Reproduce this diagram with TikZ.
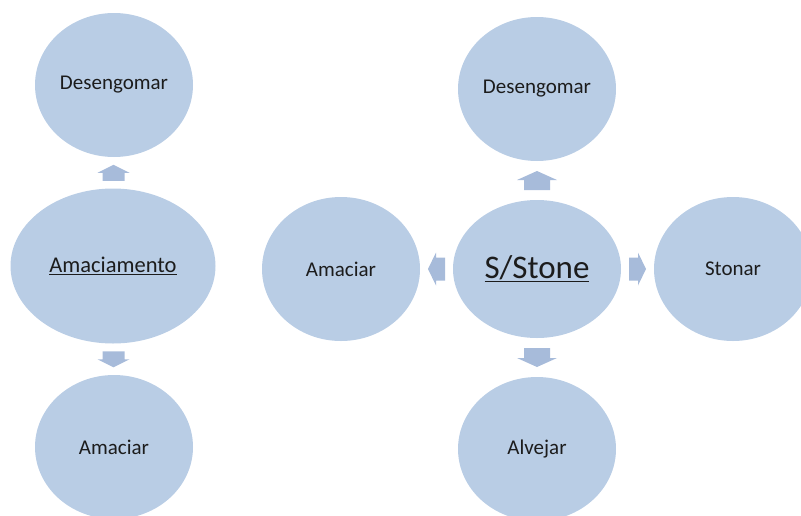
\documentclass[tikz,border=0pt]{standalone}
\usepackage{fontspec}
\setmainfont{Carlito}
\usetikzlibrary{shapes.geometric,calc}
\definecolor{bubble}{HTML}{B9CDE5}
\definecolor{arrowfill}{HTML}{A7BBDA}
\definecolor{ink}{HTML}{1C1C1C}
\tikzset{
  bubble/.style={ellipse, fill=bubble, draw=none, inner sep=0pt,
    text=ink, font=\fontsize{21}{24}\selectfont},
  small/.style={bubble, minimum width=158pt, minimum height=144pt},
}
% block arrow centred on a coordinate:
% #1 centre, #2 direction angle, #3 total length, #4 head width, #5 shaft width, #6 head length
\newcommand\BlockArrow[6]{%
  \fill[arrowfill, shift={(#1)}, rotate=#2]
    ({-#3/2},{-#5/2}) -- ({#3/2-#6},{-#5/2}) -- ({#3/2-#6},{-#4/2})
    -- ({#3/2},0) -- ({#3/2-#6},{#4/2}) -- ({#3/2-#6},{#5/2})
    -- ({-#3/2},{#5/2}) -- cycle;}
\begin{document}
\begin{tikzpicture}[x=1pt,y=-1pt]
\useasboundingbox (0,0) rectangle (801,515);

% left group
\node[small] (ldes) at (114,85) {Desengomar};
\node[bubble, minimum width=205pt, minimum height=155pt,
      font=\fontsize{22.5}{26}\selectfont] (lam) at (113,266) {\underline{Amaciamento}};
\node[small] (lamc) at (114,447) {Amaciar};
\coordinate (la1) at ($(lam.north)!0.5!(ldes.south)$);
\coordinate (la2) at ($(lam.south)!0.5!(lamc.north)$);
\BlockArrow{la1}{90}{16}{32}{22}{8}
\BlockArrow{la2}{-90}{16}{32}{22}{8}

% right group
\node[bubble, minimum width=168pt, minimum height=138pt,
      font=\fontsize{33}{38}\selectfont] (st) at (537,269) {\underline{S/Stone}};
\node[small] (rdes) at (537,89) {Desengomar};
\node[small] (ralv) at (537,449) {Alvejar};
\node[small] (ramc) at (341,269) {Amaciar};
\node[small] (rst) at (733,269) {Stonar};
\coordinate (ra1) at ($(st.north)!0.5!(rdes.south)$);
\coordinate (ra2) at ($(st.south)!0.5!(ralv.north)$);
\coordinate (ra3) at ($(st.west)!0.5!(ramc.east)$);
\coordinate (ra4) at ($(st.east)!0.5!(rst.west)$);
\BlockArrow{ra1}{90}{19}{40}{26}{9}
\BlockArrow{ra2}{-90}{19}{40}{26}{9}
\BlockArrow{ra3}{180}{17}{33}{23}{8}
\BlockArrow{ra4}{0}{17}{33}{23}{8}
\end{tikzpicture}
\end{document}
